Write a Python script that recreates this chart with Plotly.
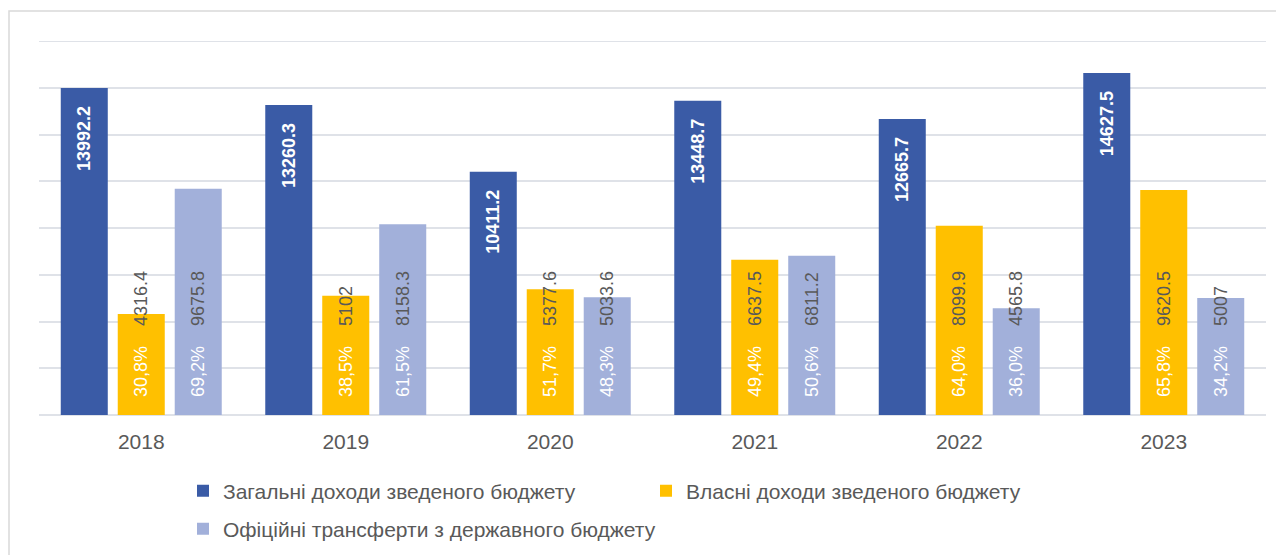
import plotly.graph_objects as go

# ---------------------------------------------------------------------------
# Data
# ---------------------------------------------------------------------------

YEARS = ["2018", "2019", "2020", "2021", "2022", "2023"]

TOTAL = [13992.2, 13260.3, 10411.2, 13448.7, 12665.7, 14627.5]
OWN = [4316.4, 5102, 5377.6, 6637.5, 8099.9, 9620.5]
TRANSFERS = [9675.8, 8158.3, 5033.6, 6811.2, 4565.8, 5007]

OWN_PCT = ["30,8%", "38,5%", "51,7%", "49,4%", "64,0%", "65,8%"]
TRANSFERS_PCT = ["69,2%", "61,5%", "48,3%", "50,6%", "36,0%", "34,2%"]

NAMES = [
    "Загальні доходи зведеного бюджету",
    "Власні доходи зведеного бюджету",
    "Офіційні трансферти з державного бюджету",
]

Y_MAX = 16000
Y_STEP = 2000

# ---------------------------------------------------------------------------
# Style
# ---------------------------------------------------------------------------

COLOR_TOTAL = "#3a5ba6"
COLOR_OWN = "#ffc000"
COLOR_TRANSFER = "#a2b0da"
COLOR_TEXT = "#595959"
COLOR_GRID = "#dfe2e8"
FONT = "Liberation Sans, Arial, sans-serif"
NB = "\u00a0"

# page body has an 8px margin, so the figure is slightly smaller than the window
W, H = 1276, 547


def _fmt(v):
    return f"{v:g}"


def _pct_label(pct, val):
    # percentage in white near the base, value in grey after it
    return (
        f"{NB * 3}<span style='color:white'>{pct}</span>"
        f"{NB * 4}<span style='color:{COLOR_TEXT}'>{_fmt(val)}</span>"
    )


total_trace = go.Bar(
    x=YEARS,
    y=TOTAL,
    name=NAMES[0],
    legend="legend",
    marker={"color": COLOR_TOTAL, "line": {"width": 0}},
    text=[_fmt(v) + NB * 3 for v in TOTAL],
    textposition="inside",
    insidetextanchor="end",
    textangle=-90,
    constraintext="none",
    textfont={"family": FONT, "size": 18, "color": "white", "weight": "bold"},
)
own_trace = go.Bar(
    x=YEARS,
    y=OWN,
    name=NAMES[1],
    legend="legend",
    marker={"color": COLOR_OWN, "line": {"width": 0}},
    text=[_pct_label(p, v) for p, v in zip(OWN_PCT, OWN)],
    textposition="inside",
    insidetextanchor="start",
    textangle=-90,
    constraintext="none",
    textfont={"family": FONT, "size": 18, "color": COLOR_TEXT},
)
transfer_trace = go.Bar(
    x=YEARS,
    y=TRANSFERS,
    name=NAMES[2],
    legend="legend2",
    marker={"color": COLOR_TRANSFER, "line": {"width": 0}},
    text=[_pct_label(p, v) for p, v in zip(TRANSFERS_PCT, TRANSFERS)],
    textposition="inside",
    insidetextanchor="start",
    textangle=-90,
    constraintext="none",
    textfont={"family": FONT, "size": 18, "color": COLOR_TEXT},
)

fig = go.Figure(data=[total_trace, own_trace, transfer_trace])

legend_common = {
    "orientation": "h",
    "xref": "container",
    "yref": "container",
    "x": 175 / W,
    "xanchor": "left",
    "yanchor": "middle",
    "font": {"size": 21, "color": COLOR_TEXT},
    "traceorder": "normal",
}

fig.update_layout(
    width=W,
    height=H,
    paper_bgcolor="white",
    plot_bgcolor="white",
    margin={"l": 31, "r": 18, "t": 33, "b": 140},
    barmode="group",
    bargap=0.164,
    bargroupgap=0.175,
    font={"family": FONT, "color": COLOR_TEXT, "size": 20},
    xaxis={
        "showgrid": False,
        "showline": False,
        "ticks": "",
        "ticklabelstandoff": 12,
        "tickfont": {"size": 21, "color": COLOR_TEXT},
    },
    yaxis={
        "range": [0, Y_MAX],
        "dtick": Y_STEP,
        "showticklabels": False,
        "showgrid": True,
        "gridcolor": COLOR_GRID,
        "gridwidth": 2,
        "zeroline": True,
        "zerolinecolor": COLOR_GRID,
        "zerolinewidth": 2,
    },
    legend={
        **legend_common,
        "y": 1 - 483 / H,
        "entrywidth": 418,
        "entrywidthmode": "pixels",
    },
    legend2={**legend_common, "y": 1 - 521 / H},
    shapes=[
        # outer chart frame
        {
            "type": "rect",
            "xref": "paper",
            "yref": "paper",
            "x0": -30 / 1227,
            "x1": 1.05,
            "y0": -0.6,
            "y1": 1 + 30 / 374,
            "line": {"color": "#d9d9d9", "width": 1.5},
            "layer": "below",
        },
        # top gridline (plotly drops the one on the range edge)
        {
            "type": "line",
            "xref": "paper",
            "yref": "y",
            "x0": 0,
            "x1": 1,
            "y0": Y_MAX,
            "y1": Y_MAX,
            "line": {"color": COLOR_GRID, "width": 2},
            "layer": "below",
        },
    ],
)

fig.write_html("out.html")
